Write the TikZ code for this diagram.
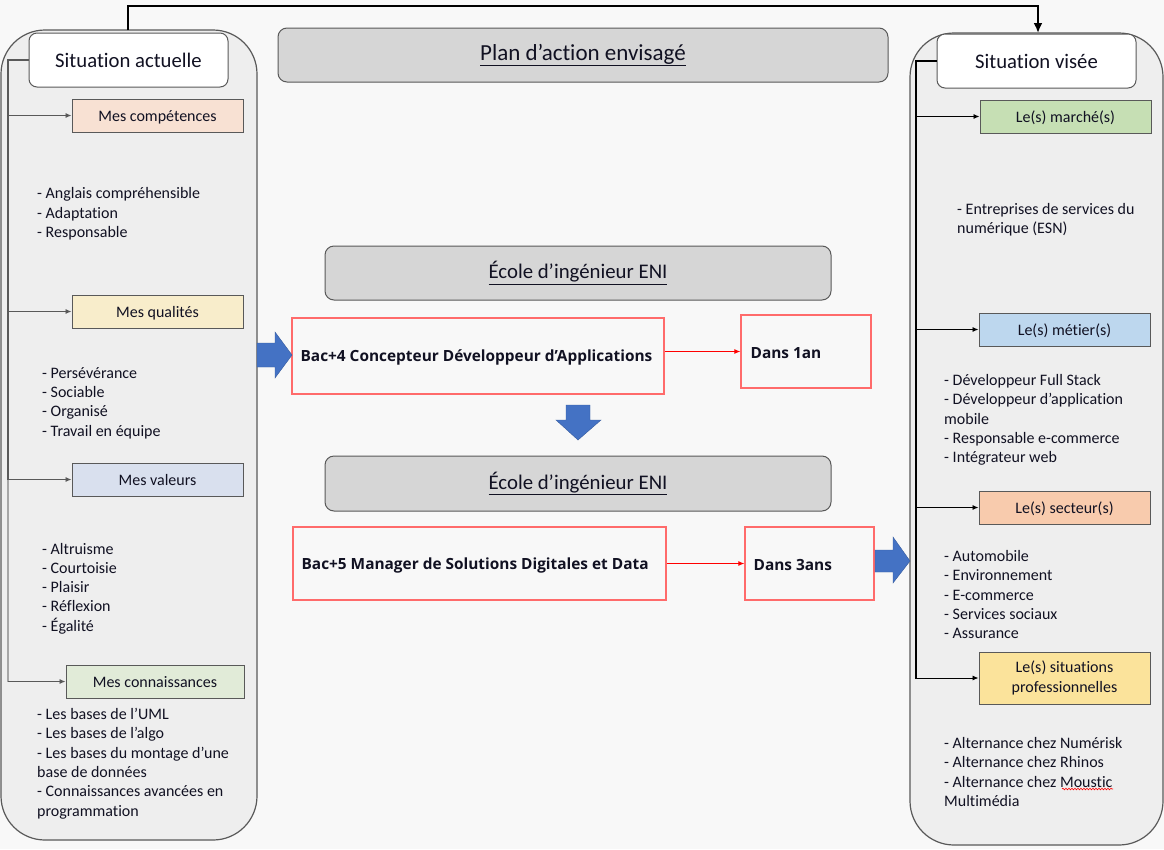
\documentclass[tikz,border=0pt]{standalone}
\usepackage{fontspec}
\setmainfont{Carlito}[Ligatures={NoCommon}]
\newfontfamily\boldface{Open Sans}
\usetikzlibrary{arrows.meta,decorations.pathmorphing}
\definecolor{bg}{HTML}{F8F8F8}
\definecolor{panelfill}{HTML}{EEEEEE}
\definecolor{edge}{HTML}{595959}
\definecolor{greybox}{HTML}{D6D6D6}
\definecolor{cpeach}{HTML}{F8E1D3}
\definecolor{cyellow}{HTML}{F8EDCB}
\definecolor{cblue}{HTML}{D9E0EE}
\definecolor{cgreen}{HTML}{E1EBD8}
\definecolor{rgreen}{HTML}{C6DFB4}
\definecolor{rblue}{HTML}{BDD7EE}
\definecolor{rorange}{HTML}{F8CBAD}
\definecolor{ryellow}{HTML}{FBE39B}
\definecolor{redbox}{HTML}{FF6B6B}
\definecolor{blockblue}{HTML}{4472C4}
\definecolor{txt}{HTML}{111122}
\begin{document}
\begin{tikzpicture}[x=1pt,y=-1pt,
  every node/.style={text=txt},
  panel/.style={draw=edge,line width=1.2pt,fill=panelfill,rounded corners=44pt,inner sep=0pt},
  headbox/.style={draw=edge,line width=1pt,fill=white,rounded corners=8pt,minimum width=199pt,minimum height=54pt,inner sep=0pt,font=\fontsize{20.7}{24}\selectfont},
  greyhead/.style={draw=edge,line width=1pt,fill=greybox,rounded corners=9pt,minimum height=54pt,inner sep=0pt,font=\fontsize{20.8}{24}\selectfont},
  catbox/.style={draw=edge,line width=1pt,minimum width=171pt,minimum height=33pt,inner sep=0pt,align=center,font=\fontsize{16}{19.3}\selectfont},
  oneline/.style={text height=12pt,text depth=1pt},
  redrect/.style={draw=redbox,line width=1.2pt,fill=bg,inner sep=0pt},
  boldtxt/.style={anchor=west,inner sep=0pt,yshift=-1.5pt,font=\boldface\fontsize{15.4}{18}\selectfont\bfseries},
  listtxt/.style={anchor=west,inner sep=0pt,align=left,font=\fontsize{16}{19.3}\selectfont},
  conn/.style={draw=edge,line width=0.9pt,-{Latex[length=6pt,width=5pt]}},
  connk/.style={draw=black,line width=0.9pt,-{Latex[length=6pt,width=5pt]}},
  redconn/.style={draw=red,line width=1pt,-{Latex[length=6pt,width=5pt]}},
  blockarrow/.style={fill=blockblue,draw=blockblue!80!black,line width=0.4pt}
]
\useasboundingbox[fill=bg] (0,0) rectangle (1164,849);

% panels
\node[panel,minimum width=256pt,minimum height=810pt] (pl) at (129,435) {};
\node[panel,minimum width=253pt,minimum height=812pt] (pr) at (1036.5,439) {};

% top connector
\draw[line width=2.6pt,-{Latex[length=10pt,width=9pt]}] (128,30) -- (128,6) -| (1038,33);

% headers
\node[headbox] (sa) at (128.5,60) {Situation actuelle};
\node[headbox] (sv) at (1036.5,61) {Situation visée};
\node[greyhead,minimum width=610pt,font=\fontsize{23}{26}\selectfont] (plan) at (583,55) {\underline{Plan d’action envisagé}};

% left category boxes
\node[catbox,oneline,fill=cpeach] (mc) at (157.5,115.5) {Mes compétences};
\node[catbox,oneline,fill=cyellow] (mq) at (157.5,311.5) {Mes qualités};
\node[catbox,oneline,fill=cblue] (mv) at (157.5,479.5) {Mes valeurs};
\node[catbox,oneline,fill=cgreen,minimum width=178pt] (mk) at (155,681.5) {Mes connaissances};

\coordinate (lt) at (8,60);
\draw[draw=edge,line width=1.6pt] (sa.west) -- (lt) -- (8,480);
\draw[draw=gray!70,line width=1.6pt] (8,480) -- (8,681.5);
\draw[conn] (8,115.5) -- (mc.west);
\draw[conn] (8,311.5) -- (mq.west);
\draw[conn] (8,479.5) -- (mv.west);
\draw[conn] (8,681.5) -- (mk.west);

% left lists
\node[listtxt] (l1) at (37,214) {- Anglais compréhensible\\- Adaptation\\- Responsable};
\node[listtxt] (l2) at (42,403) {- Persévérance\\- Sociable\\- Organisé\\- Travail en équipe};
\node[listtxt] (l3) at (42,588.5) {- Altruisme\\- Courtoisie\\- Plaisir\\- Réflexion\\- Égalité};
\node[listtxt] (l4) at (37,763.5) {- Les bases de l’UML\\- Les bases de l’algo\\- Les bases du montage d’une\\base de données\\- Connaissances avancées en\\programmation};

% right category boxes
\node[catbox,oneline,fill=rgreen] (r1) at (1065.5,116.5) {Le(s) marché(s)};
\node[catbox,oneline,fill=rblue] (r2) at (1064.5,329.5) {Le(s) métier(s)};
\node[catbox,oneline,fill=rorange] (r3) at (1064.5,507.5) {Le(s) secteur(s)};
\node[catbox,fill=ryellow,minimum height=52pt] (r4) at (1064.5,678) {Le(s) situations\\professionnelles};

\coordinate (rt) at (916,61);
\draw[black,line width=1.6pt] (sv.west) -- (rt) -- (916,679);
\draw[connk] (916,116.5) -- (r1.west);
\draw[connk] (916,329.5) -- (r2.west);
\draw[connk] (916,507.5) -- (r3.west);
\draw[connk] (916,678) -- (r4.west);

% right lists
\node[listtxt] (rl1) at (957,219.5) {- Entreprises de services du\\numérique (ESN)};
\node[listtxt] (rl2) at (944,420) {- Développeur Full Stack\\- Développeur d'application\\mobile\\- Responsable e-commerce\\- Intégrateur web};
\node[listtxt] (rl3) at (944,594.5) {- Automobile\\- Environnement\\- E-commerce\\- Services sociaux\\- Assurance};
\node[listtxt] (rl4) at (944,772) {- Alternance chez Numérisk\\- Alternance chez Rhinos\\- Alternance chez Moustic\\Multimédia};
\draw[red,line width=0.6pt,decorate,decoration={snake,amplitude=0.8pt,segment length=3pt}] (1062,789) -- (1113,789);

% centre
\node[greyhead,minimum width=506pt] (eni1) at (578,273) {\underline{École d’ingénieur ENI}};
\node[greyhead,minimum width=506pt,minimum height=55pt] (eni2) at (578,483.5) {\underline{École d’ingénieur ENI}};

\node[redrect,minimum width=372pt,minimum height=76pt] (b4) at (478,356) {};
\node[boldtxt] at ([xshift=9pt]b4.west) {Bac+4 Concepteur Développeur d’Applications};
\node[redrect,minimum width=130pt,minimum height=73pt] (d1) at (806,351.5) {};
\node[boldtxt] at ([xshift=10pt]d1.west) {Dans 1an};
\draw[redconn] (b4.east |- d1.west) -- (d1.west);

\node[redrect,minimum width=373pt,minimum height=73pt] (b5) at (479.5,563.5) {};
\node[boldtxt] at ([xshift=9pt]b5.west) {Bac+5 Manager de Solutions Digitales et Data};
\node[redrect,minimum width=129pt,minimum height=73pt] (d3) at (809.5,563.5) {};
\node[boldtxt] at ([xshift=9pt]d3.west) {Dans 3ans};
\draw[redconn] (b5.east) -- (d3.west);

% block arrows
\draw[blockarrow] (257,343) -- (275,343) -- (275,332) -- (292,355) -- (275,378) -- (275,367) -- (257,367) -- cycle;
\draw[blockarrow] (566,405) -- (590,405) -- (590,420) -- (601,420) -- (578,440) -- (556,420) -- (566,420) -- cycle;
\draw[blockarrow] (875,550) -- (893,550) -- (893,537) -- (910,561) -- (893,583) -- (893,572) -- (875,572) -- cycle;
\end{tikzpicture}
\end{document}
